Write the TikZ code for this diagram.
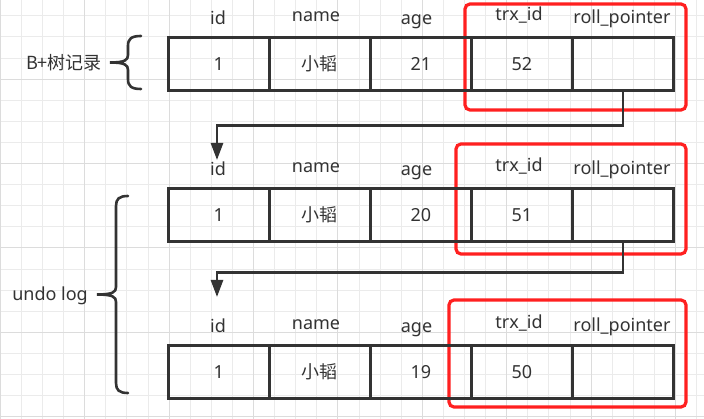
\documentclass[tikz,border=0pt]{standalone}
\usepackage{fontspec}
\setmainfont{Noto Sans}
\newfontfamily\cjk{Noto Sans CJK SC}
\usetikzlibrary{arrows.meta}
\definecolor{ink}{HTML}{333333}
\definecolor{redbox}{HTML}{FF2020}
\definecolor{gridminor}{HTML}{EBEBEB}
\definecolor{gridmajor}{HTML}{DCDCDC}
\begin{document}
\begin{tikzpicture}[x=1pt,y=-1pt,
  cell/.style={draw=ink,line width=2.6pt,minimum width=101pt,minimum height=53pt,
    inner sep=0pt,anchor=north west,text=ink,font=\fontsize{18}{20}\selectfont},
  hdr/.style={anchor=base,inner sep=0pt,text=ink,font=\fontsize{18}{20}\selectfont},
  lbl/.style={inner sep=0pt,text=ink,font=\fontsize{18}{20}\selectfont},
  conn/.style={draw=ink,line width=2.6pt,-{Triangle[length=17pt,width=12pt]}},
  brace/.style={draw=ink,line width=2.6pt,line cap=round},
  redframe/.style={draw=redbox,line width=3.2pt,rounded corners=5pt},
  gminor/.style={draw=gridminor,line width=1pt},
  gmajor/.style={draw=gridmajor,line width=1pt}]
\useasboundingbox (0,0) rectangle (704,419);
\fill[white] (0,0) rectangle (704,419);
% grid
\foreach \i in {0,...,33} {\draw[gminor] ({0.3+21.1*\i},0) -- ++(0,419);}
\foreach \j in {0,...,19} {\draw[gminor] (0,{15.9+21.1*\j}) -- ++(704,0);}
\foreach \i in {0,4,...,32} {\draw[gmajor] ({0.3+21.1*\i},0) -- ++(0,419);}
\foreach \j in {3,7,...,19} {\draw[gmajor] (0,{15.9+21.1*\j}) -- ++(704,0);}
% red frames
\draw[redframe] (465,4) rectangle (686,110);
\draw[redframe] (456,144) rectangle (686,254);
\draw[redframe] (449,300) rectangle (686,407);
% records
\foreach \r/\top/\a/\t in {1/36/21/52, 2/187/20/51, 3/344/19/50} {
  \node[cell] (id\r) at (167,\top) {1};
  \node[cell] (nm\r) at (268,\top) {\cjk 小韬};
  \node[cell] (ag\r) at (369,\top) {\a};
  \node[cell] (tx\r) at (470,\top) {\t};
  \node[cell] (rp\r) at (571,\top) {};
  \node[hdr] (hid\r) at (218,\top-11.5) {id};
  \node[hdr] (hnm\r) at (316,\top-14) {name};
  \node[hdr] (hag\r) at (416.5,\top-11.5) {age};
  \node[hdr] (htx\r) at (519,\top-15) {trx\_id};
  \node[hdr] (hrp\r) at (622,\top-12) {roll\_pointer};
}
% connectors
\coordinate (t1) at (217,160);
\coordinate (t2) at (217,297);
\draw[conn] (rp1.south) -- ++(0,34) -| (t1);
\draw[conn] (rp2.south) -- ++(0,30) -| (t2);
% braces
\draw[brace] (141,36) .. controls (131,36) and (128,39) .. (128,46) -- (128,55)
  .. controls (128,60) and (125,62.5) .. (110,62.5)
  .. controls (125,62.5) and (128,65) .. (128,70) -- (128,79)
  .. controls (128,86) and (131,89) .. (141,89);
\draw[brace] (128,196) .. controls (119,196) and (116,199) .. (116,206) -- (116,287)
  .. controls (116,292) and (113,294.5) .. (97,294.5)
  .. controls (113,294.5) and (116,297) .. (116,302) -- (116,383)
  .. controls (116,390) and (119,393) .. (128,393);
\node[lbl] (bl) at (64,62.5) {\cjk B+树记录};
\node[lbl] (ul) at (50,296) {undo log};
\end{tikzpicture}
\end{document}
